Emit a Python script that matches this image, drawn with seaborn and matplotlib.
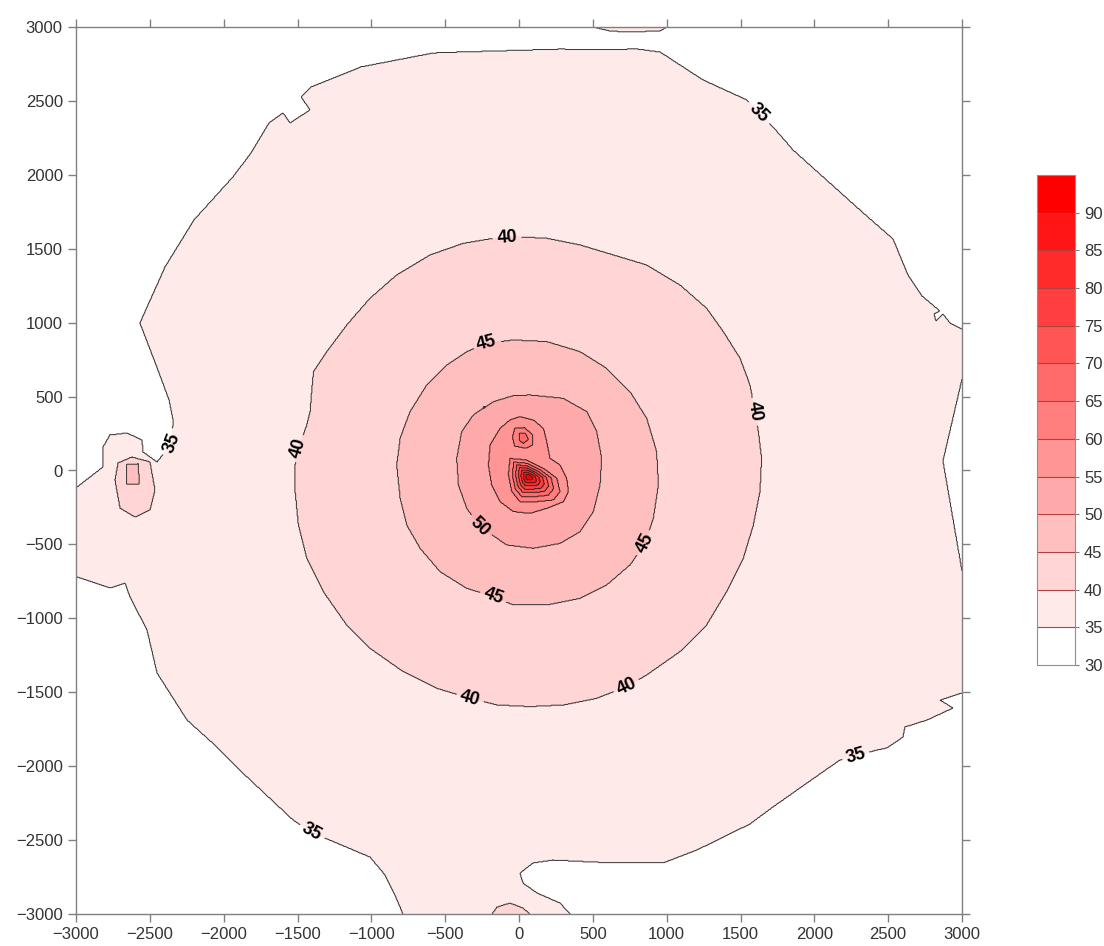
import numpy as np
import matplotlib
matplotlib.use("Agg")
import matplotlib.pyplot as plt
from matplotlib.path import Path
import seaborn as sns

# contour levels (colour bands 30-35 ... 90-95)
LEVELS = list(range(30, 100, 5))
LABELLED = [35, 40, 45, 50]

# 35 contour, main outline (data units)
OUTER_X = [2309, 1856, 1720, 1544, 1246, 955, 799, 393, 298, -393, -582, -1070, -1409, -1476,
           -1415, -1551, -1598, -1693, -1815, -1937, -2201, -2397, -2567, -2445, -2370, -2343,
           -2350, -2451, -2546, -2553, -2655, -2770, -2817, -2817, -2993, -3200, -3200, -2993,
           -2770, -2668, -2634, -2519, -2451, -2248, -2045, -1842, -1530, -1395, -1009, -907,
           -840, -786, -786, 345, 345, 278, 122, 27, 7, 95, 230, 637, 975, 1205, 1564, 1720,
           1950, 2174, 2424, 2492, 2600, 2614, 2763, 2939, 2851, 3000, 3200, 3200, 3000, 2871,
           3000, 3200, 3200, 3000, 2919, 2871, 2824, 2810, 2851, 2729, 2634, 2533]
OUTER_Y = [1762, 2168, 2324, 2506, 2642, 2831, 2851, 2845, 2851, 2831, 2824, 2730, 2594, 2527,
           2439, 2351, 2419, 2351, 2148, 1986, 1695, 1377, 998, 680, 477, 342,
           186, 58, 125, 206, 254, 240, 159, 24, -112, -112, -720, -720,
           -795, -761, -856, -1079, -1370, -1688, -1871, -2073, -2364, -2452, -2615, -2736,
           -2872, -3000, -3200, -3200, -3000, -2926, -2858, -2791, -2723, -2655, -2635, -2655,
           -2655, -2567, -2391, -2276, -2114, -1958, -1891, -1877, -1803, -1735, -1688, -1607,
           -1553, -1505, -1505, -680, -680, 64, 619, 619, 957, 957, 998, 1059, 1011, 1059, 1079,
           1180, 1323, 1566]
# 35, small piece at the top edge
TOP_X = [501, 616, 731, 955, 1002, 1002, 501]
TOP_Y = [3000, 2973, 2966, 2973, 3000, 3200, 3200]

# 40 contours
C40_X = [-38, 188, 413, 639, 865, 1090, 1271, 1384, 1497, 1564, 1598, 1621, 1643, 1632, 1587,
         1519, 1406, 1271, 1090, 865, 729, 526, 300, 75, -151, -331, -557, -783, -1009, -1167,
         -1325, -1437, -1494, -1516, -1516, -1494, -1437, -1415, -1404, -1392, -1302, -1167,
         -1009, -828, -602, -377, -173]
C40_Y = [1582, 1571, 1526, 1458, 1390, 1255, 1097, 939, 759, 579, 398, 263, 82, -143, -369,
         -594, -820, -1045, -1225, -1383, -1462, -1541, -1586, -1597, -1586, -1541, -1473, -1361,
         -1203, -1045, -820, -594, -369, -143, 37, 150, 308, 398, 533, 669, 804, 984, 1165,
         1323, 1458, 1537, 1571]
ISLAND40_X = [-2621, -2499, -2465, -2499, -2600, -2702, -2736, -2715]
ISLAND40_Y = [91, 58, -132, -267, -315, -254, -64, 51]
BOTTOM40_X = [-183, -149, -61, 27, 74, 74, -183]
BOTTOM40_Y = [-3000, -2953, -2926, -2960, -3000, -3200, -3200]

# 45 contours
C45_X = [-38, 188, 413, 594, 752, 865, 932, 944, 910, 853, 752, 594, 413, 188, -38, -173, -354,
         -535, -670, -760, -805, -828, -805, -738, -625, -489, -354, -219]
C45_Y = [883, 872, 804, 691, 533, 353, 128, -98, -323, -493, -639, -774, -865, -910, -910, -853,
         -797, -684, -526, -369, -188, 37, 218, 398, 579, 714, 804, 860]
ISLAND45_X = [-2660, -2580, -2570, -2655]
ISLAND45_Y = [40, 45, -90, -95]
HOLE40_X = [-241, -173, -173, -241]
HOLE40_Y = [432, 432, 353, 353]

# 50 / 55 contours
C50_X = [75, 300, 459, 526, 560, 549, 504, 413, 278, 98, -83, -264, -354, -410, -422, -388, -309,
         -173, -38]
C50_Y = [511, 488, 398, 263, 82, -98, -278, -414, -493, -526, -504, -380, -256, -98, 82, 263,
         376, 466, 506]
C55_X = [7, 97, 165, 188, 210, 278, 323, 335, 301, 188, 75, -38, -128, -185, -207, -196, -128,
         -61]
C55_Y = [364, 342, 285, 195, 82, 37, -53, -143, -211, -256, -290, -278, -211, -98, 37, 173, 285,
         342]

# small northern peak
N60_X = [-30, 35, 90, 95, 50, -30, -45]
N60_Y = [285, 290, 245, 175, 150, 165, 225]
N65_X = [0, 45, 64, 30, 0]
N65_Y = [250, 250, 210, 184, 205]

# central peak
C60_X = [-61, 52, 165, 256, 278, 233, 120, 7, -49, -72]
C60_Y = [82, 71, 15, -53, -143, -199, -211, -211, -143, -30]
C65_X = [-36, 54, 145, 218, 235, 199, 109, 18, -26, -45]
C65_Y = [57, 49, 4, -51, -123, -167, -177, -177, -123, -32]
C70_X = [-16, 56, 129, 187, 201, 172, 100, 28, -8, -23]
C70_Y = [38, 31, -5, -49, -106, -142, -150, -150, -106, -34]
C75_X = [2, 58, 114, 160, 171, 148, 92, 36, 8, -4]
C75_Y = [21, 15, -13, -47, -92, -120, -126, -126, -92, -35]
C80_X = [18, 60, 101, 135, 143, 127, 85, 43, 22, 14]
C80_Y = [5, 0, -20, -45, -79, -99, -104, -104, -79, -37]
C85_X = [33, 61, 89, 112, 118, 106, 78, 50, 36, 30]
C85_Y = [-10, -13, -27, -44, -67, -81, -84, -84, -67, -38]
C90_X = [48, 62, 77, 89, 92, 86, 71, 57, 49, 46]
C90_Y = [-25, -26, -34, -43, -54, -62, -63, -63, -54, -40]

REGIONS = [
    (35, OUTER_X, OUTER_Y), (35, TOP_X, TOP_Y),
    (40, C40_X, C40_Y), (40, ISLAND40_X, ISLAND40_Y), (40, BOTTOM40_X, BOTTOM40_Y),
    (45, C45_X, C45_Y), (45, ISLAND45_X, ISLAND45_Y), (40, HOLE40_X, HOLE40_Y),
    (50, C50_X, C50_Y), (55, C55_X, C55_Y),
    (60, N60_X, N60_Y), (65, N65_X, N65_Y),
    (60, C60_X, C60_Y), (65, C65_X, C65_Y), (70, C70_X, C70_Y), (75, C75_X, C75_Y),
    (80, C80_X, C80_Y), (85, C85_X, C85_Y), (90, C90_X, C90_Y),
]

TICKS = list(range(-3000, 3001, 500))

# build the gridded field: each cell takes the band of the innermost contour around it
gx = np.linspace(-3000, 3000, 1201)
gy = np.linspace(-3000, 3000, 1201)
XX, YY = np.meshgrid(gx, gy)
pts = np.column_stack([XX.ravel(), YY.ravel()])
Z = np.full(XX.size, LEVELS[0] + 2.5)
for lev, xs, ys in REGIONS:
    inside = Path(np.column_stack([xs, ys])).contains_points(pts)
    Z[inside] = lev + 2.5
Z = Z.reshape(XX.shape)

sns.set_style("ticks")
plt.rcParams["font.family"] = ["Liberation Sans", "DejaVu Sans"]

band_colors = sns.blend_palette(["#ffffff", "#ff0000"], len(LEVELS) - 1)

fig = plt.figure(figsize=(11.04, 9.46), dpi=100)
ax = fig.add_axes([76 / 1104, 32 / 946, 886 / 1104, 887 / 946])

cf = ax.contourf(XX, YY, Z, levels=LEVELS, colors=band_colors)
inner = [lv for lv in LEVELS if lv not in LABELLED]
ax.contour(XX, YY, Z, levels=inner, colors="#3a2020", linewidths=0.7)
cs = ax.contour(XX, YY, Z, levels=LABELLED, colors="#333333", linewidths=0.7)

label_pos = [(1632, 2425), (-2363, 186), (-1402, -2445), (2275, -1904),
             (-81, 1559), (-1494, 150), (1598, 398), (-331, -1541), (729, -1462),
             (-219, 860), (853, -493), (-173, -853),
             (-264, -380)]
labels = ax.clabel(cs, manual=label_pos, inline=True, fmt="%d", fontsize=13, colors="k")
for t in labels:
    t.set_fontweight("bold")

ax.set_xlim(-3000, 3000)
ax.set_ylim(-3000, 3000)
ax.set_xticks(TICKS)
ax.set_yticks(TICKS)
ax.tick_params(top=True, right=True, labeltop=False, labelright=False, direction="out",
               length=6, width=1, color="#808080", labelsize=12, labelcolor="#333333")
for sp in ax.spines.values():
    sp.set_visible(True)
    sp.set_color("#808080")
    sp.set_linewidth(1)

cax = fig.add_axes([1037 / 1104, 281 / 946, 38 / 1104, 490 / 946])
cbar = fig.colorbar(cf, cax=cax, ticks=LEVELS[:-1], drawedges=True)
cbar.dividers.set_color("#b04040")
cbar.dividers.set_linewidth(0.8)
cbar.outline.set_edgecolor("#909090")
cbar.ax.tick_params(length=3, color="#808080", labelsize=12, labelcolor="#333333")

fig.savefig("out.png", dpi=100)
